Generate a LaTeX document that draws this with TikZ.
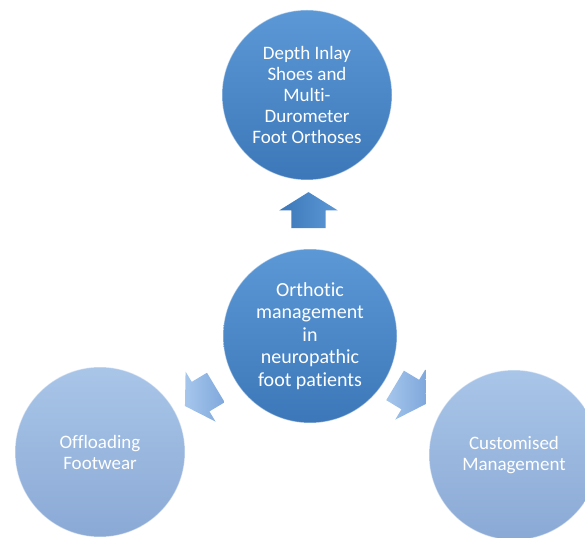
\documentclass[tikz,border=0pt]{standalone}
\usepackage{fontspec}
\setmainfont{Carlito}[Ligatures={NoCommon,NoContextual}]
\usetikzlibrary{shapes.arrows,calc}
\definecolor{deepA}{HTML}{5C98D6}
\definecolor{deepB}{HTML}{3C77B9}
\definecolor{paleA}{HTML}{A9C5E8}
\definecolor{paleB}{HTML}{8AA9D5}
\definecolor{arrowA}{HTML}{A6C6EC}
\definecolor{arrowB}{HTML}{7FA8DC}

\begin{document}
\begin{tikzpicture}[x=1pt,y=1pt,
    ball/.style={circle,minimum size=170pt,inner sep=0pt,align=center,text=white,
      font=\fontsize{19}{21}\selectfont,draw=white,draw opacity=0.45,line width=1pt},
    deepball/.style={ball,top color=deepA,bottom color=deepB},
    paleball/.style={ball,top color=paleA,bottom color=paleB},
    blockarrow/.style={single arrow,minimum height=36pt,minimum width=58pt,
      single arrow head extend=12pt,single arrow tip angle=116,inner xsep=0pt,inner ysep=17pt},
    deeparrow/.style={blockarrow,left color=deepB,right color=deepA},
    palearrow/.style={blockarrow,left color=arrowA,right color=arrowB}]
    \useasboundingbox (0,0) rectangle (585,537);
    \clip (0,0) rectangle (585,537);
    % the four circles
    \node[deepball] (top) at (307,442) {Depth Inlay\\Shoes and\\Multi-\\Durometer\\Foot Orthoses};
    \node[deepball,minimum size=174pt,font=\fontsize{20}{22.5}\selectfont] (hub) at (310,201)
        {Orthotic\\management\\in\\neuropathic\\foot patients};
    \node[paleball] (left) at (100,85) {Offloading\\Footwear};
    \node[paleball] (right) at (514,82) {Customised\\Management};
    % block arrows between hub and the others
    \node[deeparrow,rotate=90] (uparrow) at ($(hub)!0.5!(top)$) {};
    \node[palearrow,rotate=211] (leftarrow) at ($(hub)!0.5!(left)$) {};
    \node[palearrow,rotate=-31] (rightarrow) at ($(hub)!0.47!(right)$) {};
\end{tikzpicture}
\end{document}
